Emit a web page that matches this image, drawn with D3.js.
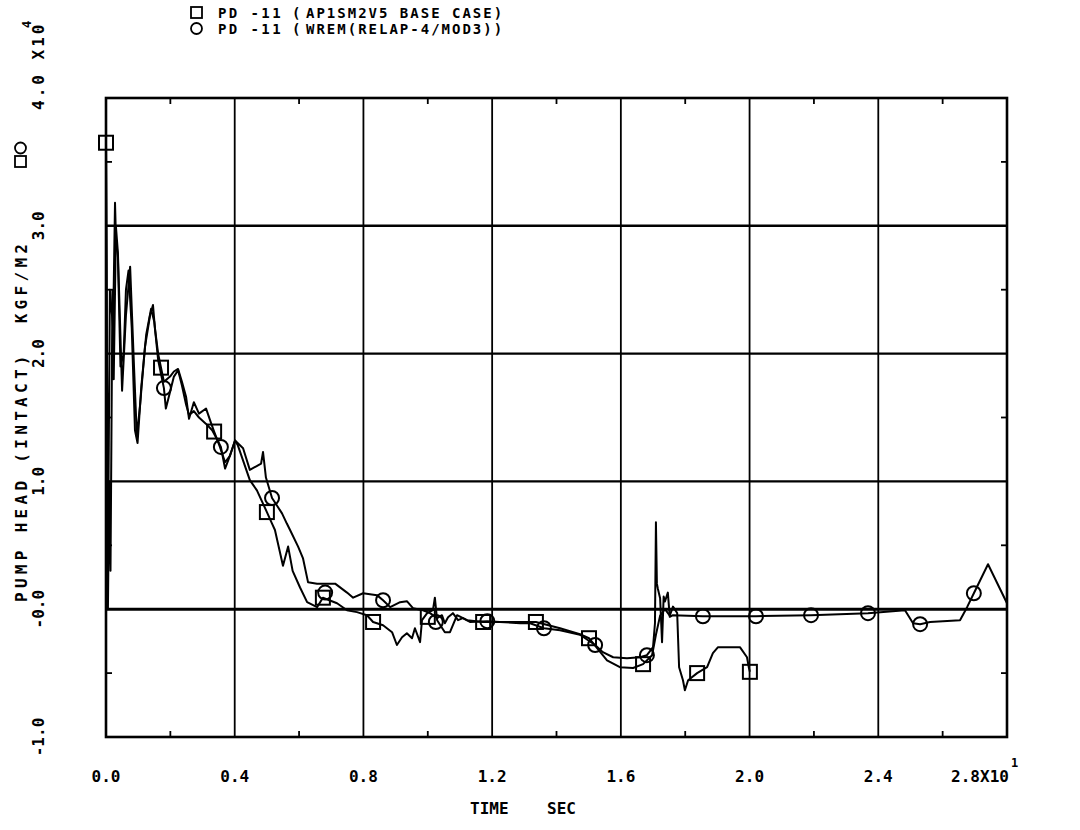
<!DOCTYPE html>
<html>
<head>
<meta charset="utf-8">
<script src="https://cdn.jsdelivr.net/npm/d3@7"></script>
<style>
  html, body { margin: 0; padding: 0; background: #fff; }
  svg { display: block; }
  text { font-family: "DejaVu Sans Mono", "Liberation Mono", monospace; font-weight: bold; fill: #000; white-space: pre; }
</style>
</head>
<body>
<svg id="chart" width="1080" height="830"></svg>
<script>
// Time in seconds, pump head in units of 1e4 kgf/m2
const baseCase = [
  [0.00, 3.65], [0.06, 0.00], [0.10, 1.00], [0.14, 0.30], [0.20, 2.50], [0.24, 1.80],
  [0.31, 2.99], [0.37, 2.79], [0.50, 1.71], [0.62, 2.30], [0.75, 2.68], [0.87, 1.90],
  [0.96, 1.35], [1.06, 1.60], [1.21, 2.05], [1.37, 2.30], [1.46, 2.38], [1.52, 2.20],
  [1.62, 2.00], [1.71, 1.89], [1.80, 1.78], [1.99, 1.82], [2.11, 1.86], [2.24, 1.88],
  [2.36, 1.78], [2.49, 1.66], [2.58, 1.49], [2.73, 1.62], [2.89, 1.53], [3.11, 1.57],
  [3.26, 1.46], [3.36, 1.39], [3.54, 1.27], [3.70, 1.15], [3.85, 1.20], [4.01, 1.32],
  [4.10, 1.28], [4.47, 1.01], [4.69, 0.93], [5.00, 0.76], [5.16, 0.67], [5.25, 0.62],
  [5.50, 0.34], [5.66, 0.49], [5.80, 0.30], [6.03, 0.17], [6.25, 0.055], [6.56, 0.016],
  [6.74, 0.09], [7.18, 0.047], [7.49, -0.008], [7.80, -0.023], [8.11, -0.047],
  [8.30, -0.10], [8.61, -0.125], [8.89, -0.18], [9.04, -0.28], [9.20, -0.22],
  [9.35, -0.188], [9.51, -0.227], [9.60, -0.149], [9.76, -0.258], [9.82, -0.086],
  [9.98, -0.031], [10.16, -0.008], [10.22, 0.09], [10.29, -0.086], [10.53, -0.18],
  [10.69, -0.18], [10.91, -0.047], [11.22, -0.086], [11.72, -0.10], [12.24, -0.10],
  [12.87, -0.10], [13.36, -0.10], [14.11, -0.149], [14.73, -0.196], [15.01, -0.227],
  [15.57, -0.40], [15.97, -0.454], [16.38, -0.46], [16.69, -0.43], [16.97, -0.36],
  [17.09, -0.20], [17.22, -0.05], [17.37, 0.00], [17.52, -0.05], [17.62, 0.02],
  [17.75, -0.03], [17.81, -0.454], [17.93, -0.556], [17.99, -0.634], [18.09, -0.556],
  [18.37, -0.50], [18.68, -0.454], [18.86, -0.344], [19.02, -0.297], [19.70, -0.297],
  [19.92, -0.376], [19.98, -0.46], [20.01, -0.49]
];

const wremCase = [
  [0.00, 3.65], [0.06, 0.30], [0.12, 2.50], [0.22, 2.20], [0.28, 3.18], [0.31, 2.90],
  [0.37, 2.75], [0.45, 1.90], [0.55, 2.00], [0.62, 2.50], [0.70, 2.65], [0.80, 2.20],
  [0.90, 1.40], [0.98, 1.30], [1.10, 1.75], [1.25, 2.15], [1.40, 2.35], [1.50, 2.25],
  [1.62, 1.95], [1.80, 1.73], [1.86, 1.57], [1.99, 1.70], [2.11, 1.82], [2.24, 1.87],
  [2.36, 1.75], [2.49, 1.60], [2.58, 1.52], [2.73, 1.55], [2.89, 1.50], [3.11, 1.45],
  [3.30, 1.40], [3.45, 1.33], [3.57, 1.27], [3.70, 1.10], [3.85, 1.20], [4.01, 1.32],
  [4.26, 1.26], [4.47, 1.09], [4.82, 1.14], [4.88, 1.23], [4.97, 1.03], [5.16, 0.87],
  [5.47, 0.75], [5.62, 0.67], [5.72, 0.62], [5.97, 0.49], [6.12, 0.40], [6.28, 0.21],
  [6.56, 0.20], [7.12, 0.20], [7.49, 0.13], [7.68, 0.09], [7.99, 0.125], [8.42, 0.11],
  [8.61, 0.07], [8.83, 0.016], [9.14, 0.055], [9.35, 0.063], [9.54, 0.008],
  [9.85, -0.008], [10.07, -0.031], [10.29, -0.07], [10.44, -0.047], [10.53, -0.11],
  [10.63, -0.063], [10.78, -0.031], [10.94, -0.086], [11.09, -0.07], [11.31, -0.10],
  [11.85, -0.094], [12.24, -0.10], [12.87, -0.11], [13.18, -0.11], [13.61, -0.149],
  [14.11, -0.164], [14.73, -0.20], [15.20, -0.28], [15.44, -0.336], [15.76, -0.376],
  [16.19, -0.383], [16.59, -0.376], [16.81, -0.36], [17.00, -0.297], [17.06, -0.11],
  [17.09, 0.68], [17.12, 0.20], [17.15, 0.16], [17.22, 0.086], [17.28, -0.258],
  [17.33, 0.10], [17.37, 0.06], [17.46, 0.13], [17.52, -0.06], [17.62, -0.047],
  [18.55, -0.055], [20.20, -0.055], [21.91, -0.047], [23.68, -0.031], [24.83, -0.008],
  [25.08, -0.11], [25.30, -0.117], [25.61, -0.10], [26.54, -0.086], [26.76, 0.016],
  [26.97, 0.125], [27.41, 0.352], [28.00, 0.047]
];

// Symbol positions along each curve
const baseMarkers = [
  [0.00, 3.65], [1.71, 1.89], [3.36, 1.39], [5.00, 0.76], [6.74, 0.09], [8.30, -0.10],
  [10.00, -0.06], [11.72, -0.10], [13.36, -0.10], [15.01, -0.227], [16.69, -0.43],
  [18.37, -0.50], [20.01, -0.49]
];
const wremMarkers = [
  [1.80, 1.73], [3.57, 1.27], [5.16, 0.87], [6.81, 0.13], [8.61, 0.07], [10.25, -0.10],
  [11.85, -0.094], [13.61, -0.149], [15.20, -0.28], [16.81, -0.36], [18.55, -0.055],
  [20.20, -0.055], [21.91, -0.047], [23.68, -0.031], [25.30, -0.117], [26.97, 0.125]
];

const xTicks = [0, 4, 8, 12, 16, 20, 24, 28];
const xTickLabels = ["0.0", "0.4", "0.8", "1.2", "1.6", "2.0", "2.4", "2.8X10"];
const yTicks = [-1, 0, 1, 2, 3, 4];
const yTickLabels = ["-1.0", "-0.0", "1.0", "2.0", "3.0", "4.0 X10"];
const legendIds = ["PD -11", "PD -11"];
const legendCases = ["AP1SM2V5 BASE CASE)", "WREM(RELAP-4/MOD3))"];

const svg = d3.select("#chart");
const L = 106, R = 1007, T = 98, B = 737;
const x = d3.scaleLinear().domain([0, 28]).range([L, R]);
const y = d3.scaleLinear().domain([-1, 4]).range([B, T]);

// grid
const g = svg.append("g");
g.selectAll("line.vg").data(xTicks.slice(1, -1)).join("line")
  .attr("x1", d => x(d)).attr("x2", d => x(d)).attr("y1", T).attr("y2", B)
  .attr("stroke", "#000").attr("stroke-width", 1.8);
g.selectAll("line.hg").data(yTicks.slice(1, -1)).join("line")
  .attr("x1", L).attr("x2", R).attr("y1", d => y(d)).attr("y2", d => y(d))
  .attr("stroke", "#000").attr("stroke-width", d => d === 0 ? 3 : 2.4);

// minor ticks
const xMinor = d3.range(2, 28, 4);
g.selectAll("line.xmb").data(xMinor).join("line")
  .attr("x1", d => x(d)).attr("x2", d => x(d)).attr("y1", B).attr("y2", B - 6)
  .attr("stroke", "#000").attr("stroke-width", 1.8);
g.selectAll("line.xmt").data(xMinor).join("line")
  .attr("x1", d => x(d)).attr("x2", d => x(d)).attr("y1", T).attr("y2", T + 6)
  .attr("stroke", "#000").attr("stroke-width", 1.8);
const yMinor = d3.range(-0.5, 4, 1);
g.selectAll("line.yml").data(yMinor).join("line")
  .attr("x1", L).attr("x2", L + 6).attr("y1", d => y(d)).attr("y2", d => y(d))
  .attr("stroke", "#000").attr("stroke-width", 1.8);
g.selectAll("line.ymr").data(yMinor).join("line")
  .attr("x1", R).attr("x2", R - 6).attr("y1", d => y(d)).attr("y2", d => y(d))
  .attr("stroke", "#000").attr("stroke-width", 1.8);

// frame
g.append("rect").attr("x", L).attr("y", T).attr("width", R - L).attr("height", B - T)
  .attr("fill", "none").attr("stroke", "#000").attr("stroke-width", 2.6);

// curves
const line = d3.line().x(d => x(d[0])).y(d => y(d[1]));
svg.append("path").datum(baseCase).attr("d", line)
  .attr("fill", "none").attr("stroke", "#000").attr("stroke-width", 2).attr("stroke-linejoin", "round");
svg.append("path").datum(wremCase).attr("d", line)
  .attr("fill", "none").attr("stroke", "#000").attr("stroke-width", 2).attr("stroke-linejoin", "round");

// symbols
const S = 14;
svg.selectAll("rect.mk").data(baseMarkers).join("rect")
  .attr("x", d => x(d[0]) - S / 2).attr("y", d => y(d[1]) - S / 2)
  .attr("width", S).attr("height", S)
  .attr("fill", "none").attr("stroke", "#000").attr("stroke-width", 2);
svg.selectAll("circle.mk").data(wremMarkers).join("circle")
  .attr("cx", d => x(d[0])).attr("cy", d => y(d[1])).attr("r", S / 2)
  .attr("fill", "none").attr("stroke", "#000").attr("stroke-width", 2);

// x tick labels
const FS = 16;
svg.selectAll("text.xt").data(xTicks).join("text")
  .attr("x", (d, i) => i === xTicks.length - 1 ? x(d) - 27 : x(d))
  .attr("y", 782).attr("text-anchor", "middle").attr("font-size", FS)
  .text((d, i) => xTickLabels[i]);
svg.append("text").attr("x", x(28) + 4).attr("y", 767).attr("font-size", 12).text("1");

// y tick labels (rotated)
svg.selectAll("text.yt").data(yTicks).join("text")
  .attr("transform", (d, i) => {
    const yy = i === yTicks.length - 1 ? y(d) + 12 : y(d);
    return `translate(44,${yy}) rotate(-90)`;
  })
  .attr("text-anchor", (d, i) => i === yTicks.length - 1 ? "start" : "middle")
  .attr("letter-spacing", (d, i) => i === yTicks.length - 1 ? 3 : 0)
  .attr("font-size", FS)
  .text((d, i) => yTickLabels[i]);
svg.append("text").attr("transform", "translate(31,28) rotate(-90)")
  .attr("font-size", 12).text("4");

// axis titles
svg.append("text").attr("x", 523).attr("y", 814).attr("text-anchor", "middle")
  .attr("font-size", FS).text("TIME    SEC");
svg.append("text").attr("transform", "translate(27,602) rotate(-90)")
  .attr("font-size", FS).attr("letter-spacing", 4.3).text("PUMP HEAD (INTACT)  KGF/M2");
svg.append("rect").attr("x", 15).attr("y", 156).attr("width", 11).attr("height", 11)
  .attr("fill", "none").attr("stroke", "#000").attr("stroke-width", 1.8);
svg.append("circle").attr("cx", 20.5).attr("cy", 148).attr("r", 5.5)
  .attr("fill", "none").attr("stroke", "#000").attr("stroke-width", 1.8);

// legend
const lg = svg.append("g");
lg.append("rect").attr("x", 191).attr("y", 7).attr("width", 11).attr("height", 11)
  .attr("fill", "none").attr("stroke", "#000").attr("stroke-width", 1.8);
lg.append("circle").attr("cx", 196.5).attr("cy", 28.5).attr("r", 5.5)
  .attr("fill", "none").attr("stroke", "#000").attr("stroke-width", 1.8);
const lt = lg.selectAll("text").data(legendIds).join("text")
  .attr("y", (d, i) => 18 + i * 16).attr("font-size", 14);
lt.append("tspan").attr("x", 218).attr("letter-spacing", 2.4).text(d => d);
lt.append("tspan").attr("x", 292).text("(");
lt.append("tspan").attr("x", 306).attr("letter-spacing", 2).text((d, i) => legendCases[i]);
</script>
</body>
</html>
